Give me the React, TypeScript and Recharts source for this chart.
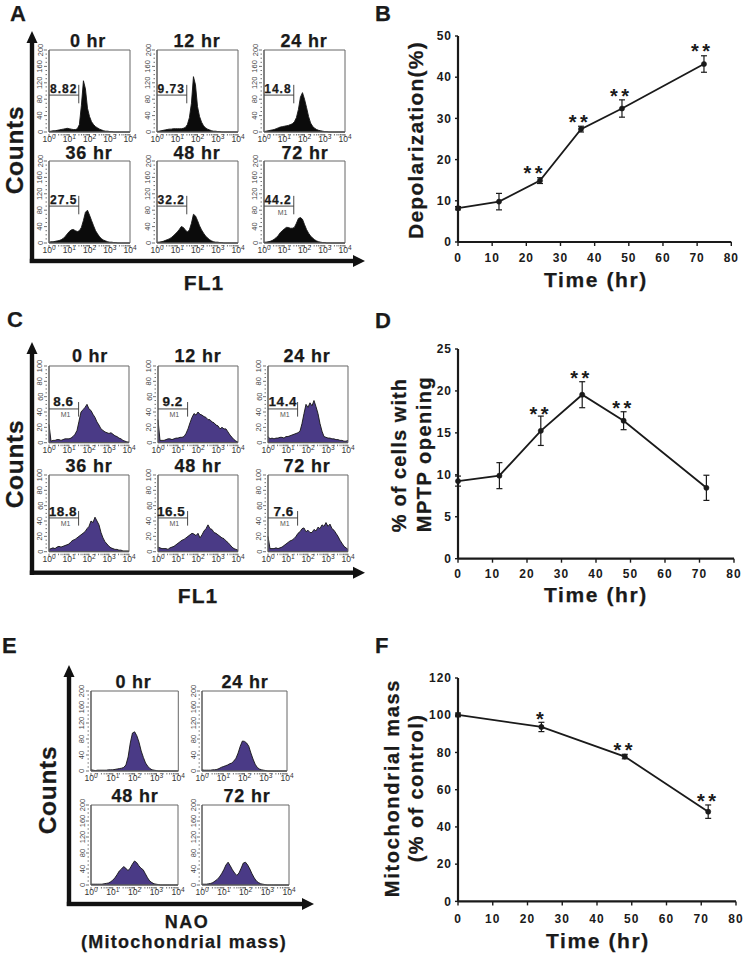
import React from 'react'
import {
    AreaChart, Area, LineChart, Line, XAxis, YAxis, ErrorBar, ReferenceArea, ReferenceLine, ReferenceDot
} from 'recharts'

const FONT = '"Liberation Sans", Arial, sans-serif'
const INK = '#1a1a1a'
const PURPLE = '#4a3a86'

// histogram bins, log10 of the fluorescence channel
const logBins = [
    0, 0.1, 0.2, 0.3, 0.4, 0.5, 0.6, 0.7, 0.8, 0.9,
    1, 1.1, 1.2, 1.3, 1.4, 1.5, 1.6, 1.7, 1.8, 1.9,
    2, 2.1, 2.2, 2.3, 2.4, 2.5, 2.6, 2.7, 2.8, 2.9,
    3, 3.1, 3.2, 3.3, 3.4, 3.5, 3.6, 3.7, 3.8, 3.9, 4,
]

// panel A counts
const a0 = [1, 2, 3, 3, 4, 5, 6, 7, 8, 9, 8, 7, 6, 6, 8, 18, 65, 125, 105, 58, 38, 25, 18, 13, 10, 7, 5, 3, 2, 2, 1, 1]
const a12 = [1, 2, 3, 4, 5, 6, 7, 7, 8, 8, 8, 8, 8, 9, 11, 18, 35, 70, 135, 115, 62, 38, 24, 15, 10, 7, 5, 3, 2, 2, 1, 1]
const a24 = [1, 2, 3, 4, 5, 6, 8, 10, 12, 13, 14, 15, 16, 18, 20, 25, 35, 55, 85, 96, 80, 60, 38, 22, 14, 9, 6, 4, 3, 2, 1, 1]
const a36 = [2, 3, 3, 4, 5, 6, 8, 11, 16, 22, 28, 32, 33, 30, 28, 30, 38, 55, 75, 80, 68, 55, 42, 30, 22, 15, 10, 7, 5, 3, 2, 2, 1, 1]
const a48 = [2, 2, 3, 4, 6, 8, 10, 13, 17, 22, 27, 33, 40, 38, 32, 27, 32, 48, 70, 66, 55, 42, 32, 24, 17, 12, 8, 5, 3, 2, 2, 1, 1]
const a72 = [2, 2, 3, 4, 6, 9, 13, 18, 25, 30, 34, 38, 38, 36, 36, 38, 48, 60, 62, 58, 45, 33, 24, 17, 12, 8, 5, 3, 2, 1, 1]

// panel C counts
const c0 = [24, 2, 3, 3, 4, 4, 3, 4, 5, 5, 5, 6, 8, 11, 16, 28, 40, 43, 46, 50, 44, 42, 37, 33, 27, 23, 18, 16, 14, 13, 12, 13, 11, 9, 8, 6, 5, 3, 2, 1, 1]
const c12 = [30, 3, 3, 3, 4, 5, 5, 4, 5, 6, 6, 7, 7, 8, 12, 18, 26, 33, 38, 36, 40, 37, 36, 34, 33, 30, 30, 27, 26, 23, 22, 18, 20, 18, 18, 14, 10, 7, 4, 2, 1]
const c24 = [8, 5, 6, 5, 6, 6, 7, 7, 6, 8, 8, 9, 10, 11, 12, 13, 15, 25, 38, 50, 46, 52, 48, 55, 47, 38, 25, 15, 8, 7, 6, 6, 5, 5, 4, 4, 3, 3, 2, 2, 3]
const c36 = [3, 4, 5, 4, 6, 7, 6, 7, 8, 9, 10, 13, 15, 16, 18, 20, 22, 24, 26, 30, 33, 40, 38, 45, 40, 35, 25, 18, 13, 10, 7, 5, 4, 3, 3, 2, 2, 1, 1, 1, 1]
const c48 = [6, 5, 4, 4, 4, 3, 5, 6, 7, 9, 11, 13, 15, 16, 18, 20, 22, 24, 23, 21, 24, 18, 22, 27, 30, 35, 30, 29, 25, 24, 22, 20, 18, 17, 14, 12, 9, 6, 4, 3, 2]
const c72 = [20, 4, 4, 4, 5, 4, 5, 6, 8, 10, 12, 14, 15, 17, 20, 24, 26, 30, 31, 26, 28, 25, 25, 29, 27, 32, 30, 35, 33, 38, 33, 36, 30, 28, 24, 20, 15, 11, 7, 5, 3]

// panel E counts
const e0 = [3, 2, 1, 2, 2, 2, 2, 2, 3, 3, 3, 4, 5, 6, 7, 9, 15, 35, 70, 95, 98, 88, 72, 50, 34, 20, 12, 6, 3, 2, 1]
const e24 = [3, 2, 2, 2, 2, 3, 3, 4, 6, 9, 11, 13, 15, 18, 20, 25, 32, 45, 62, 75, 74, 70, 62, 45, 30, 17, 9, 5, 3, 2, 1]
const e48 = [2, 2, 2, 2, 2, 2, 3, 4, 5, 8, 12, 18, 26, 35, 40, 46, 42, 36, 42, 52, 60, 56, 48, 42, 38, 28, 18, 10, 6, 3, 2, 1]
const e72 = [2, 2, 2, 3, 4, 6, 10, 14, 20, 28, 38, 50, 57, 48, 38, 30, 24, 30, 42, 55, 57, 50, 40, 28, 18, 10, 6, 3, 2, 1]

const sixHours = ['0 hr', '12 hr', '24 hr', '36 hr', '48 hr', '72 hr']
const fourHours = ['0 hr', '24 hr', '48 hr', '72 hr']
const gatesA = ['8.82', '9.73', '14.8', '27.5', '32.2', '44.2']
const gatesC = ['8.6', '9.2', '14.4', '18.8', '16.5', '7.6']

// line panels
const timeB = [0, 12, 24, 36, 48, 72]
const depolarization = [8.2, 9.8, 14.9, 27.4, 32.4, 43.2]
const depolarizationErr = [0.4, 2, 0.7, 0.7, 2.1, 2]
const starsB = [{ t: 22.5, v: 18.1, s: '**' }, { t: 35.7, v: 30.4, s: '**' }, { t: 47.8, v: 36.8, s: '**' }, { t: 71.5, v: 47.7, s: '**' }]

const timeD = [0, 12, 24, 36, 48, 72]
const mptp = [9.25, 9.9, 15.25, 19.55, 16.45, 8.45]
const mptpErr = [0.6, 1.55, 1.75, 1.55, 1.07, 1.5]
const starsD = [{ t: 24, v: 17.9, s: '**' }, { t: 35.8, v: 22.2, s: '**' }, { t: 48, v: 18.6, s: '**' }]

const timeF = [0, 24, 48, 72]
const mass = [100.2, 93.7, 77.8, 48.2]
const massErr = [1, 2.5, 1.2, 3.6]
const starsF = [{ t: 24.1, v: 100.9, s: '*' }, { t: 48, v: 84.2, s: '**' }, { t: 72, v: 56.8, s: '**' }]

const hourTicks = [0, 10, 20, 30, 40, 50, 60, 70, 80]
const decades = [0, 1, 2, 3, 4]
const logTicks = [...decades.slice(0, 4).flatMap(d => [1, 2, 3, 4, 5, 6, 7, 8, 9].map(m => d + Math.log10(m))), 4]

const count200Labels = [0, 40, 80, 120, 160, 200]
const count200Ticks = [0, 10, 20, 30, 40, 50, 60, 70, 80, 90, 100, 110, 120, 130, 140, 150, 160, 170, 180, 190, 200]
const count100Labels = [0, 20, 40, 60, 80, 100]
const count100Ticks = [0, 5, 10, 15, 20, 25, 30, 35, 40, 45, 50, 55, 60, 65, 70, 75, 80, 85, 90, 95, 100]

const ML = 22
const MT = 10
const MB = 16
const MR = 12

const LogTick = ({ x, y, payload }: any) => {
    const major = Number.isInteger(payload.value)
    return (
        <g>
            <line x1={x} x2={x} y1={y} y2={y + (major ? 3 : 1.5)} stroke="#333" strokeWidth={0.7} />
            {major && (
                <text x={x} y={y + 8} textAnchor="middle" fontSize={8.5} fontFamily={FONT} fill="#333">
                    10<tspan dy={-3} fontSize={6.5}>{payload.value}</tspan>
                </text>
            )}
        </g>
    )
}

const makeCountTick = (labels: number[]) => ({ x, y, payload }: any) => {
    const major = labels.includes(payload.value)
    return (
        <g>
            <line x1={x} x2={x - (major ? 3 : 1.5)} y1={y} y2={y} stroke="#333" strokeWidth={0.7} />
            {major && (
                <text
                    x={x - 4.5}
                    y={y}
                    textAnchor="middle"
                    fontSize={7.5}
                    fontFamily={FONT}
                    fill="#444"
                    transform={`rotate(-90 ${x - 4.5} ${y})`}
                >
                    {payload.value}
                </text>
            )}
        </g>
    )
}

interface HistProps {
    left: number
    top: number
    w: number
    h: number
    counts: number[]
    maxY: number
    yTicks: number[]
    yLabels: number[]
    fill: string
    gate?: { x: number; y: number; hi: number; lo: number }
}

const Hist: React.FC<HistProps> = ({ left, top, w, h, counts, maxY, yTicks, yLabels, fill, gate }) => {
    const table = logBins.map((b, i) => ({ b, c: counts[i] ?? 0 }))
    return (
        <div style={{ position: 'absolute', left: left - ML, top: top - MT }}>
            <AreaChart width={w + ML + MR} height={h + MT + MB} data={table} margin={{ top: MT, right: MR, bottom: 0, left: 0 }}>
                <XAxis
                    dataKey="b"
                    type="number"
                    domain={[0, 4]}
                    ticks={logTicks}
                    interval={0}
                    height={MB}
                    tickSize={0}
                    tickLine={false}
                    tick={LogTick}
                    axisLine={{ stroke: '#555' }}
                />
                <YAxis
                    type="number"
                    domain={[0, maxY]}
                    ticks={yTicks}
                    interval={0}
                    width={ML}
                    tickSize={0}
                    tickLine={false}
                    tick={makeCountTick(yLabels)}
                    axisLine={{ stroke: '#555' }}
                />
                <Area
                    type="linear"
                    dataKey="c"
                    stroke="#151515"
                    strokeWidth={0.9}
                    fill={fill}
                    fillOpacity={1}
                    dot={false}
                    isAnimationActive={false}
                />
                <ReferenceArea x1={0} x2={4} y1={0} y2={maxY} fill="none" stroke="#666" strokeWidth={1} />
                {gate && (
                    <ReferenceLine segment={[{ x: 0, y: gate.y }, { x: gate.x, y: gate.y }]} stroke="#333" strokeWidth={0.9} />
                )}
                {gate && (
                    <ReferenceLine segment={[{ x: gate.x, y: gate.lo }, { x: gate.x, y: gate.hi }]} stroke="#333" strokeWidth={0.9} />
                )}
            </AreaChart>
        </div>
    )
}

interface TrendProps {
    left: number
    top: number
    w: number
    h: number
    times: number[]
    values: number[]
    errors: number[]
    stars: { t: number; v: number; s: string }[]
    yMax: number
    yTicks: number[]
    labelGap: number
}

const TML = 60
const TMT = 10
const TMB = 30
const TMR = 20

const Star = ({ cx, cy, s }: any) => (
    <text
        x={cx}
        y={cy + 12.5}
        textAnchor="middle"
        fontSize={20}
        fontWeight={700}
        letterSpacing={3.5}
        fontFamily={FONT}
        fill={INK}
    >
        {s}
    </text>
)

const Trend: React.FC<TrendProps> = ({ left, top, w, h, times, values, errors, stars, yMax, yTicks, labelGap }) => {
    const table = times.map((t, i) => ({ t, v: values[i], e: errors[i] }))
    const tickStyle = { fontSize: 12, fontWeight: 700, fontFamily: FONT, fill: INK, letterSpacing: 1 }
    return (
        <div style={{ position: 'absolute', left: left - TML, top: top - TMT }}>
            <LineChart width={w + TML + TMR} height={h + TMT + TMB} data={table} margin={{ top: TMT, right: TMR, bottom: 0, left: 0 }}>
                <XAxis
                    dataKey="t"
                    type="number"
                    domain={[0, 80]}
                    ticks={hourTicks}
                    interval={0}
                    height={TMB}
                    tickSize={4}
                    tickMargin={labelGap}
                    tick={tickStyle}
                    tickLine={{ stroke: INK, strokeWidth: 1.4 }}
                    axisLine={{ stroke: INK, strokeWidth: 2.2 }}
                />
                <YAxis
                    type="number"
                    domain={[0, yMax]}
                    ticks={yTicks}
                    interval={0}
                    width={TML}
                    tickSize={3}
                    tickMargin={3}
                    tick={tickStyle}
                    tickLine={{ stroke: INK, strokeWidth: 1.4 }}
                    axisLine={{ stroke: INK, strokeWidth: 2.2 }}
                />
                <Line
                    dataKey="v"
                    type="linear"
                    stroke={INK}
                    strokeWidth={1.8}
                    dot={{ r: 2.6, fill: INK, stroke: INK, strokeWidth: 0.5 }}
                    isAnimationActive={false}
                >
                    <ErrorBar dataKey="e" width={3} stroke={INK} strokeWidth={1.2} isAnimationActive={false} />
                </Line>
                {stars.map(st => (
                    <ReferenceDot
                        key={st.t}
                        x={st.t}
                        y={st.v}
                        r={0}
                        shape={(p: any) => <Star cx={p.cx} cy={p.cy} s={st.s} />}
                    />
                ))}
            </LineChart>
        </div>
    )
}

const Bold = ({ x, y, size, ls = 0, rotate = false, anchor = 'middle', children }: any) => (
    <text
        x={x}
        y={y}
        fontFamily={FONT}
        fontWeight={700}
        fontSize={size}
        letterSpacing={ls}
        textAnchor={anchor}
        fill={INK}
        stroke={INK}
        strokeWidth={0.25}
        transform={rotate ? `rotate(-90 ${x} ${y})` : undefined}
    >
        {children}
    </text>
)

const Arrows = ({ x, yTop, yBottom, y, xRight }: any) => (
    <g fill="#111" stroke="none">
        <rect x={x - 2.2} y={yTop + 10} width={4.4} height={yBottom - yTop - 10} />
        <polygon points={`${x},${yTop} ${x - 5.5},${yTop + 12} ${x + 5.5},${yTop + 12}`} />
        <rect x={x - 2.2} y={y - 2.2} width={xRight - x - 8} height={4.4} />
        <polygon points={`${xRight},${y} ${xRight - 12},${y - 6} ${xRight - 12},${y + 6}`} />
    </g>
)

// layout of the small multiples
const leftsA = [48.7, 156.7, 264]
const topsA = [50, 161]
const leftsC = [49, 157.7, 268.3]
const topsC = [365.7, 475]
const leftsE = [90.5, 202.2]
const topsE = [691, 805]
const widthsE = [87.3, 85, 87, 87]
const titleXA = [88, 197, 304, 89, 197, 305]
const titleXC = [90, 198, 307, 89, 198, 307]
const titleXE = [133.5, 245, 135, 247]
const titleYA = [46.5, 159]
const titleYC = [362, 471.5]
const titleYE = [688, 801.5]
const gateOffsetA = [1, 1.5, 2.2, 1, 1.5, 2]
const gateOffsetC = [5, 4.5, 1, 1.5, 2, 4]

const App: React.FC = () => {
    const countsA = [a0, a12, a24, a36, a48, a72]
    const countsC = [c0, c12, c24, c36, c48, c72]
    const countsE = [e0, e24, e48, e72]
    const wA = 81
    const hA = 82
    const wC = 80
    const hC = 76.7
    const hE = 80
    return (
        <div style={{ position: 'absolute', left: 0, top: 0, width: 748, height: 956, background: '#fff', overflow: 'hidden' }}>
            {countsA.map((c, i) => (
                <Hist
                    key={sixHours[i]}
                    left={leftsA[i % 3]}
                    top={topsA[i < 3 ? 0 : 1]}
                    w={wA}
                    h={hA}
                    counts={c}
                    maxY={200}
                    yTicks={count200Ticks}
                    yLabels={count200Labels}
                    fill="#0b0b0b"
                    gate={{ x: 1.47, y: 90, hi: 115, lo: 70 }}
                />
            ))}
            {countsC.map((c, i) => (
                <Hist
                    key={sixHours[i]}
                    left={leftsC[i % 3]}
                    top={topsC[i < 3 ? 0 : 1]}
                    w={wC}
                    h={hC}
                    counts={c}
                    maxY={100}
                    yTicks={count100Ticks}
                    yLabels={count100Labels}
                    fill={PURPLE}
                    gate={{ x: 1.48, y: 44, hi: 53, lo: 34 }}
                />
            ))}
            {countsE.map((c, i) => (
                <Hist
                    key={fourHours[i]}
                    left={leftsE[i % 2]}
                    top={topsE[i < 2 ? 0 : 1]}
                    w={widthsE[i]}
                    h={hE}
                    counts={c}
                    maxY={200}
                    yTicks={count200Ticks}
                    yLabels={count200Labels}
                    fill={PURPLE}
                />
            ))}

            <Trend left={458} top={36} w={273.3} h={206} times={timeB} values={depolarization} errors={depolarizationErr} stars={starsB} yMax={50} yTicks={[0, 10, 20, 30, 40, 50]} labelGap={7.5} />
            <Trend left={458} top={349.3} w={276} h={209.7} times={timeD} values={mptp} errors={mptpErr} stars={starsD} yMax={25} yTicks={[0, 5, 10, 15, 20, 25]} labelGap={7} />
            <Trend left={458} top={678.3} w={278} h={223.4} times={timeF} values={mass} errors={massErr} stars={starsF} yMax={120} yTicks={[0, 20, 40, 60, 80, 100, 120]} labelGap={9.5} />

            <svg width={748} height={956} style={{ position: 'absolute', left: 0, top: 0, pointerEvents: 'none' }}>
                <Arrows x={32} yTop={31} yBottom={263} y={261} xRight={365} />
                <Arrows x={32} yTop={342} yBottom={575} y={572.7} xRight={365} />
                <Arrows x={69} yTop={665} yBottom={906} y={904} xRight={314} />

                <Bold x={10} y={20.5} size={22} anchor="start">A</Bold>
                <Bold x={375} y={20.7} size={22} anchor="start">B</Bold>
                <Bold x={7} y={326.5} size={22} anchor="start">C</Bold>
                <Bold x={375} y={328} size={22} anchor="start">D</Bold>
                <Bold x={2} y={653} size={22} anchor="start">E</Bold>
                <Bold x={375} y={653} size={22} anchor="start">F</Bold>

                <Bold x={23} y={150} size={24.5} ls={0.7} rotate>Counts</Bold>
                <Bold x={23} y={464} size={24.5} ls={0.7} rotate>Counts</Bold>
                <Bold x={56} y={790} size={24.5} ls={0.7} rotate>Counts</Bold>
                <Bold x={204} y={290} size={21} ls={1}>FL1</Bold>
                <Bold x={198} y={602.5} size={21} ls={1}>FL1</Bold>
                <Bold x={187} y={927.5} size={18} ls={1.5}>NAO</Bold>
                <Bold x={184} y={948} size={18} ls={1.25}>(Mitochondrial mass)</Bold>

                {sixHours.map((t, i) => (
                    <Bold key={t} x={titleXA[i]} y={titleYA[i < 3 ? 0 : 1]} size={18} ls={0.8}>{t}</Bold>
                ))}
                {sixHours.map((t, i) => (
                    <Bold key={t} x={titleXC[i]} y={titleYC[i < 3 ? 0 : 1]} size={18} ls={0.8}>{t}</Bold>
                ))}
                {fourHours.map((t, i) => (
                    <Bold key={t} x={titleXE[i]} y={titleYE[i < 2 ? 0 : 1]} size={18} ls={0.8}>{t}</Bold>
                ))}

                {gatesA.map((g, i) => {
                    const row = i < 3 ? 0 : 1
                    const gx = leftsA[i % 3] + (1.47 / 4) * wA
                    const gy = topsA[row] + hA * (1 - 90 / 200)
                    return <Bold key={g} x={gx - gateOffsetA[i]} y={gy - 2} size={12} ls={1} anchor="end">{g}</Bold>
                })}
                {gatesC.map((g, i) => {
                    const row = i < 3 ? 0 : 1
                    const gx = leftsC[i % 3] + (1.48 / 4) * wC
                    const gy = topsC[row] + hC * (1 - 44 / 100)
                    return (
                        <g key={g}>
                            <Bold x={gx - gateOffsetC[i]} y={gy - 2.3} size={13.5} ls={0.5} anchor="end">{g}</Bold>
                            <text x={gx - 13} y={gy + 8.5} textAnchor="middle" fontSize={7} fontFamily={FONT} fill="#555">M1</text>
                        </g>
                    )
                })}
                <text x={282.5} y={215} textAnchor="middle" fontSize={7} fontFamily={FONT} fill="#555">M1</text>

                <Bold x={423} y={140} size={21} ls={1.2} rotate>Depolarization(%)</Bold>
                <Bold x={596} y={287} size={21} ls={1.6}>Time (hr)</Bold>
                <Bold x={406} y={455} size={20} ls={1.1} rotate>% of cells with</Bold>
                <Bold x={431} y={454} size={20} ls={1.5} rotate>MPTP opening</Bold>
                <Bold x={596} y={602} size={21} ls={1.6}>Time (hr)</Bold>
                <Bold x={399} y={788} size={20} ls={1.7} rotate>Mitochondrial mass</Bold>
                <Bold x={423} y={788} size={20} ls={1.4} rotate>(% of control)</Bold>
                <Bold x={598} y={948} size={21} ls={1.6}>Time (hr)</Bold>
            </svg>
        </div>
    )
}

export default App
